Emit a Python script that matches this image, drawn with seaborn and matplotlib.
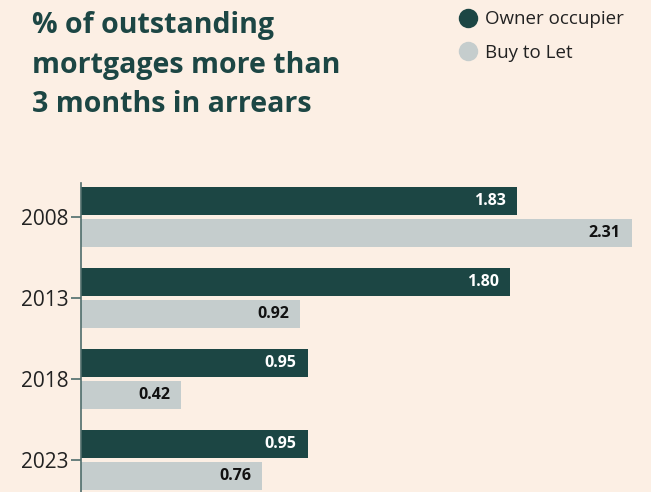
import matplotlib
matplotlib.use("Agg")
import matplotlib.pyplot as plt
import seaborn as sns
import pandas as pd
from matplotlib.lines import Line2D

years = ["2008", "2013", "2018", "2023"]
owner_occupier = [1.83, 1.80, 0.95, 0.95]
buy_to_let = [2.31, 0.92, 0.42, 0.76]
series_names = ["Owner occupier", "Buy to Let"]
title_lines = ["% of outstanding", "mortgages more than", "3 months in arrears"]

BG = "#fcefe4"
DARK = "#1c4644"
LIGHT = "#c5cdcd"
AXC = "#4f6d6b"

df = pd.DataFrame({
    "year": years * 2,
    "value": owner_occupier + buy_to_let,
    "series": [series_names[0]] * 4 + [series_names[1]] * 4,
})

sns.set_theme(style="white")
plt.rcParams["font.family"] = ["Open Sans", "DejaVu Sans"]

fig = plt.figure(figsize=(6.51, 4.92), dpi=100, facecolor=BG)
ax = fig.add_axes([81 / 651, 0, 1 - 81 / 651, 1 - 183 / 492])
ax.set_facecolor(BG)

sns.barplot(data=df, y="year", x="value", hue="series", order=years,
            hue_order=series_names, palette=[DARK, LIGHT], orient="h",
            width=0.79, gap=0.125, saturation=1, legend=False, ax=ax,
            edgecolor="none")

ax.set_xlim(0, 570 / 238.5)
ax.set_ylim(3.395, -0.42)

for i, cont in enumerate(ax.containers):
    color = "white" if i == 0 else "#111111"
    labels = [f"{v:.2f}" for v in cont.datavalues]
    anns = ax.bar_label(cont, labels=labels, padding=-8, color=color,
                        fontsize=11.5, fontweight="bold")
    for a in anns:
        a.set_ha("right")
        a.set_va("center")

for s in ["top", "right", "bottom"]:
    ax.spines[s].set_visible(False)
ax.spines["left"].set_color(AXC)
ax.spines["left"].set_linewidth(1.2)
ax.set_xticks([])
ax.set_xlabel("")
ax.set_ylabel("")
ax.tick_params(axis="y", left=True, length=7, width=1.2, color=AXC,
               labelsize=15, labelcolor="#222222", pad=2)

for k, (line, base) in enumerate(zip(title_lines, [33, 73, 112])):
    fig.text(32 / 651, 1 - base / 492, line, ha="left", va="baseline",
             fontsize=20.5, fontweight="bold", color=DARK)

handles = [Line2D([], [], marker="o", linestyle="none", markersize=14,
                  markerfacecolor=c, markeredgecolor="none") for c in (DARK, LIGHT)]
leg = fig.legend(handles, series_names, loc="upper left",
                 bbox_to_anchor=(449 / 651, 1 - 3 / 492), frameon=False,
                 fontsize=13.5, handletextpad=0.3, labelspacing=0.8,
                 borderaxespad=0.0, handlelength=1.2)
for t in leg.get_texts():
    t.set_color("#222222")

fig.savefig("out.png", dpi=100, facecolor=BG)
